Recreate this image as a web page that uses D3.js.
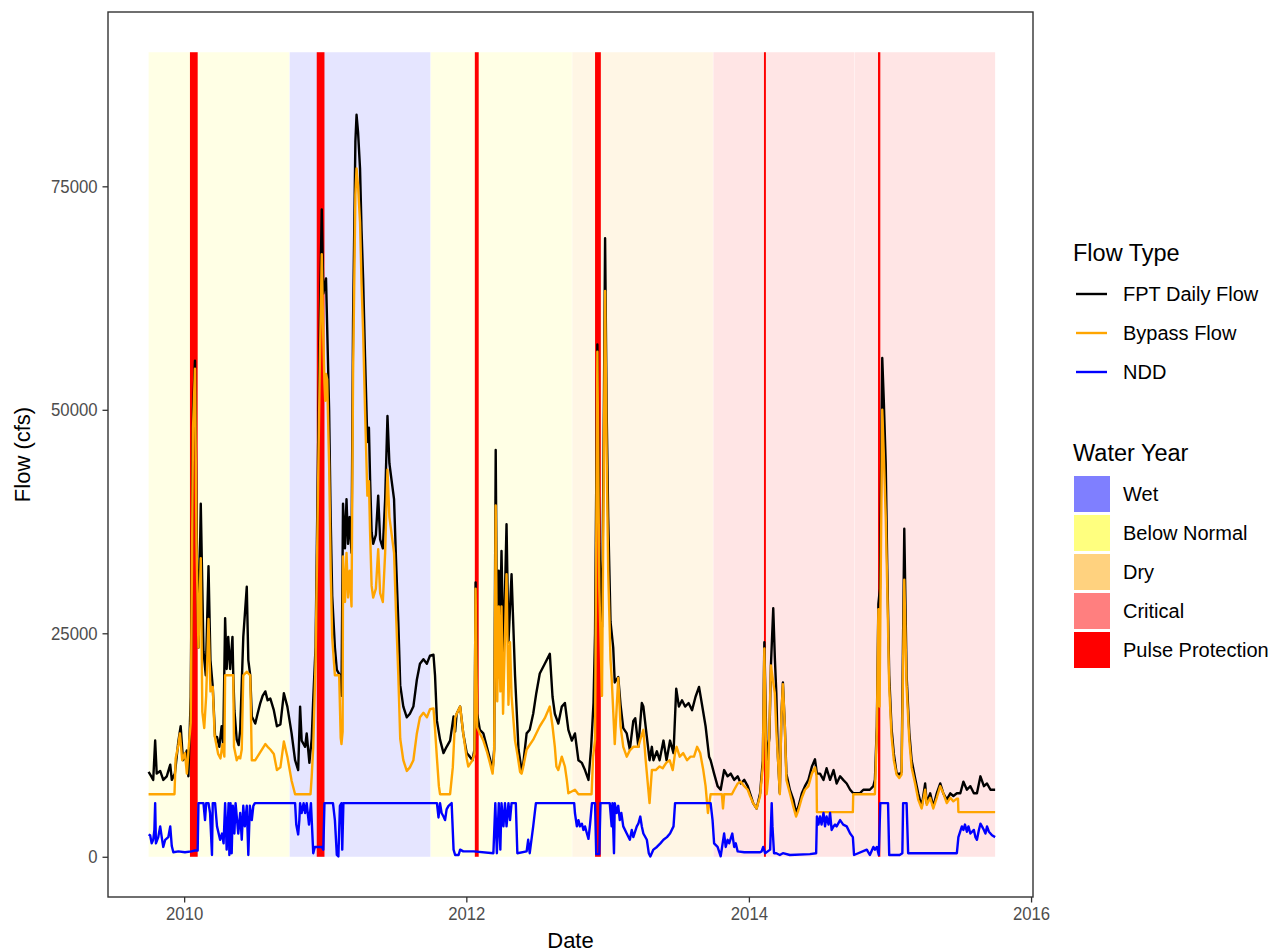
<!DOCTYPE html>
<html>
<head>
<meta charset="utf-8">
<script src="https://cdn.jsdelivr.net/npm/d3@7/dist/d3.min.js"></script>
<style>
  body { margin: 0; background: #ffffff; }
  svg text { font-family: "Liberation Sans", Arial, sans-serif; }
</style>
</head>
<body>
<svg width="1273" height="952"></svg>
<script>
// water years and their classification
const waterYearStart = ["2009-10-01", "2010-10-01", "2011-10-01", "2012-10-01", "2013-10-01", "2014-10-01"];
const waterYearEnd   = ["2010-09-30", "2011-09-30", "2012-09-30", "2013-09-30", "2014-09-30", "2015-09-30"];
const waterYearType  = ["Below Normal", "Wet", "Below Normal", "Dry", "Critical", "Critical"];

// pulse protection windows
const pulseStart = ["2010-01-16", "2010-12-10", "2012-01-23", "2012-11-29", "2014-02-09", "2014-12-01"];
const pulseEnd   = ["2010-02-05", "2010-12-30", "2012-02-02", "2012-12-14", "2014-02-14", "2014-12-07"];

const fillNames  = ["Wet", "Below Normal", "Dry", "Critical", "Pulse Protection"];
const fillColors = ["#0000FF", "#FFFF00", "#FFA500", "#FF0000", "#FF0000"];

const flowNames  = ["FPT Daily Flow", "Bypass Flow", "NDD"];
const flowColors = ["#000000", "#FFA500", "#0000FF"];

const yTicks = [0, 25000, 50000, 75000];
const xTicks = ["2010-01-01", "2012-01-01", "2014-01-01", "2016-01-01"];

// Freeport daily flow (cfs)
const fptFlow = [
  ["2009-10-01", 9500], ["2009-10-08", 9000], ["2009-10-13", 8600], ["2009-10-18", 13000], ["2009-10-22", 9300],
  ["2009-10-31", 9600], ["2009-11-08", 8600], ["2009-11-17", 9000], ["2009-11-26", 10300], ["2009-11-30", 8600],
  ["2009-12-08", 9300], ["2009-12-17", 12900], ["2009-12-23", 14600], ["2009-12-29", 10800], ["2010-01-03", 11000],
  ["2010-01-08", 11900], ["2010-01-12", 9000], ["2010-01-18", 17900], ["2010-01-24", 50000], ["2010-01-29", 55500],
  ["2010-02-02", 38000], ["2010-02-07", 23400], ["2010-02-13", 39500], ["2010-02-20", 23000], ["2010-02-26", 20300],
  ["2010-03-05", 32500], ["2010-03-10", 22000], ["2010-03-16", 19000], ["2010-03-22", 13400], ["2010-03-27", 13400],
  ["2010-04-02", 12300], ["2010-04-08", 14600], ["2010-04-12", 12500], ["2010-04-17", 26700], ["2010-04-21", 21000],
  ["2010-04-25", 24600], ["2010-04-30", 21000], ["2010-05-06", 24600], ["2010-05-08", 20500], ["2010-05-11", 16400],
  ["2010-05-17", 13100], ["2010-05-22", 12500], ["2010-05-26", 14200], ["2010-06-03", 24600], ["2010-06-12", 30200],
  ["2010-06-16", 22000], ["2010-06-21", 20300], ["2010-06-25", 15700], ["2010-07-04", 14900], ["2010-07-10", 16000],
  ["2010-07-17", 17200], ["2010-07-23", 18000], ["2010-07-30", 18500], ["2010-08-05", 17500], ["2010-08-12", 17700],
  ["2010-08-21", 16400], ["2010-08-29", 14600], ["2010-09-07", 14800], ["2010-09-16", 18300], ["2010-09-25", 16800],
  ["2010-10-06", 13800], ["2010-10-15", 10800], ["2010-10-23", 9700], ["2010-10-28", 16800], ["2010-11-01", 13000],
  ["2010-11-10", 12300], ["2010-11-14", 13800], ["2010-11-21", 10500], ["2010-11-27", 13200], ["2010-12-01", 17700],
  ["2010-12-07", 23500], ["2010-12-13", 44000], ["2010-12-18", 60000], ["2010-12-23", 72400], ["2010-12-27", 63000],
  ["2011-01-03", 64700], ["2011-01-06", 59300], ["2011-01-11", 50000], ["2011-01-15", 38000], ["2011-01-19", 29200],
  ["2011-01-26", 23400], ["2011-01-31", 20900], ["2011-02-08", 20300], ["2011-02-12", 18000], ["2011-02-16", 39500],
  ["2011-02-21", 34500], ["2011-02-25", 40000], ["2011-03-01", 35000], ["2011-03-05", 38000], ["2011-03-10", 34000],
  ["2011-03-14", 60000], ["2011-03-20", 80000], ["2011-03-23", 83000], ["2011-03-27", 81000], ["2011-04-01", 77000],
  ["2011-04-05", 70000], ["2011-04-09", 64700], ["2011-04-14", 55900], ["2011-04-20", 46400], ["2011-04-24", 48000],
  ["2011-04-27", 42300], ["2011-05-01", 36300], ["2011-05-05", 35000], ["2011-05-12", 36000], ["2011-05-18", 40400],
  ["2011-05-23", 35500], ["2011-05-30", 34500], ["2011-06-05", 40000], ["2011-06-11", 49300], ["2011-06-16", 44000],
  ["2011-06-22", 42000], ["2011-06-28", 40000], ["2011-07-03", 33400], ["2011-07-09", 26300], ["2011-07-14", 19200],
  ["2011-07-22", 16800], ["2011-07-31", 15600], ["2011-08-08", 16000], ["2011-08-17", 16800], ["2011-08-26", 19800],
  ["2011-09-03", 21600], ["2011-09-12", 22100], ["2011-09-21", 21600], ["2011-09-29", 22500], ["2011-10-08", 22600],
  ["2011-10-12", 20300], ["2011-10-17", 15200], ["2011-10-25", 13100], ["2011-11-03", 11600], ["2011-11-11", 12300],
  ["2011-11-20", 13000], ["2011-11-29", 15700], ["2011-12-03", 14000], ["2011-12-07", 16000], ["2011-12-16", 16800],
  ["2011-12-24", 13800], ["2012-01-02", 11600], ["2012-01-10", 11200], ["2012-01-17", 10800], ["2012-01-22", 12000],
  ["2012-01-25", 30700], ["2012-01-29", 16000], ["2012-02-05", 14200], ["2012-02-14", 13800], ["2012-02-23", 12300],
  ["2012-03-02", 11000], ["2012-03-09", 9700], ["2012-03-13", 12000], ["2012-03-17", 45500], ["2012-03-21", 20000],
  ["2012-03-25", 32000], ["2012-03-29", 27000], ["2012-04-01", 34200], ["2012-04-06", 22000], ["2012-04-14", 37200],
  ["2012-04-19", 24000], ["2012-04-27", 31600], ["2012-05-06", 20300], ["2012-05-15", 12000], ["2012-05-23", 9700],
  ["2012-05-27", 10300], ["2012-06-05", 13800], ["2012-06-13", 14200], ["2012-06-22", 16000], ["2012-06-30", 18300],
  ["2012-07-09", 20500], ["2012-07-22", 21600], ["2012-08-04", 22700], ["2012-08-11", 17900], ["2012-08-17", 16000],
  ["2012-08-26", 14900], ["2012-09-04", 16800], ["2012-09-12", 17200], ["2012-09-21", 14200], ["2012-09-30", 13000],
  ["2012-10-08", 13800], ["2012-10-17", 10800], ["2012-10-26", 10500], ["2012-11-03", 9700], ["2012-11-12", 8600],
  ["2012-11-19", 12300], ["2012-11-25", 17200], ["2012-11-29", 25000], ["2012-12-05", 57300], ["2012-12-10", 35000],
  ["2012-12-17", 25700], ["2012-12-21", 45000], ["2012-12-25", 69200], ["2012-12-29", 50000], ["2013-01-02", 38000],
  ["2013-01-08", 26300], ["2013-01-15", 23400], ["2013-01-19", 19500], ["2013-01-28", 20100], ["2013-02-03", 17000],
  ["2013-02-10", 14400], ["2013-02-19", 13800], ["2013-02-27", 12000], ["2013-03-08", 15200], ["2013-03-13", 15500],
  ["2013-03-21", 12300], ["2013-03-30", 17200], ["2013-04-03", 16800], ["2013-04-12", 13400], ["2013-04-19", 10800],
  ["2013-04-25", 12300], ["2013-04-29", 10800], ["2013-05-08", 11800], ["2013-05-15", 10800], ["2013-05-25", 13000],
  ["2013-06-02", 10800], ["2013-06-11", 13000], ["2013-06-20", 11600], ["2013-06-27", 18800], ["2013-07-04", 16800],
  ["2013-07-12", 17500], ["2013-07-20", 16800], ["2013-07-29", 17200], ["2013-08-07", 16400], ["2013-08-16", 17900],
  ["2013-08-25", 19000], ["2013-09-01", 17200], ["2013-09-11", 14600], ["2013-09-20", 11200], ["2013-09-24", 10800],
  ["2013-10-03", 9300], ["2013-10-12", 7900], ["2013-10-20", 7500], ["2013-10-29", 9700], ["2013-11-07", 9000],
  ["2013-11-15", 9300], ["2013-11-24", 8600], ["2013-12-03", 9000], ["2013-12-11", 8200], ["2013-12-20", 8600],
  ["2013-12-29", 7900], ["2014-01-04", 7100], ["2014-01-12", 6000], ["2014-01-21", 5400], ["2014-01-30", 7100],
  ["2014-02-06", 10800], ["2014-02-10", 24000], ["2014-02-16", 10800], ["2014-02-23", 13300], ["2014-02-27", 21400],
  ["2014-03-05", 27800], ["2014-03-09", 22400], ["2014-03-13", 18300], ["2014-03-17", 11200], ["2014-03-22", 7100],
  ["2014-03-26", 15700], ["2014-03-30", 19500], ["2014-04-04", 14600], ["2014-04-08", 9300], ["2014-04-17", 7500],
  ["2014-04-26", 6400], ["2014-05-03", 4900], ["2014-05-09", 5600], ["2014-05-18", 7100], ["2014-05-26", 7900],
  ["2014-06-04", 8600], ["2014-06-13", 10100], ["2014-06-21", 10900], ["2014-06-26", 9300], ["2014-07-04", 9300],
  ["2014-07-13", 8600], ["2014-07-21", 9900], ["2014-07-30", 8600], ["2014-08-08", 9700], ["2014-08-16", 8200],
  ["2014-08-25", 9000], ["2014-09-02", 8600], ["2014-09-11", 8200], ["2014-09-20", 7500], ["2014-09-28", 7100],
  ["2014-10-07", 7100], ["2014-10-15", 7100], ["2014-10-24", 7500], ["2014-11-02", 7500], ["2014-11-10", 7500],
  ["2014-11-19", 7900], ["2014-11-23", 8600], ["2014-11-28", 14600], ["2014-12-02", 28300], ["2014-12-06", 30000],
  ["2014-12-12", 55800], ["2014-12-16", 51000], ["2014-12-21", 44000], ["2014-12-25", 32200], ["2014-12-30", 20300],
  ["2015-01-05", 14400], ["2015-01-11", 11500], ["2015-01-18", 9400], ["2015-01-25", 9200], ["2015-01-31", 9500],
  ["2015-02-07", 36700], ["2015-02-13", 20300], ["2015-02-20", 13900], ["2015-02-26", 10800], ["2015-03-07", 8800],
  ["2015-03-15", 7100], ["2015-03-24", 5600], ["2015-04-02", 8200], ["2015-04-06", 6000], ["2015-04-15", 7100],
  ["2015-04-23", 5600], ["2015-05-02", 7100], ["2015-05-11", 8200], ["2015-05-19", 7100], ["2015-05-28", 6400],
  ["2015-06-06", 7100], ["2015-06-14", 6800], ["2015-06-23", 7100], ["2015-07-02", 7100], ["2015-07-10", 8400],
  ["2015-07-19", 7500], ["2015-07-28", 7900], ["2015-08-06", 7100], ["2015-08-14", 7100], ["2015-08-23", 9000],
  ["2015-09-01", 7900], ["2015-09-09", 8200], ["2015-09-18", 7500], ["2015-09-30", 7500]
];

// bypass flow (cfs)
const bypassFlow = [
  ["2009-10-01", 7000], ["2009-12-07", 7000], ["2009-12-10", 11000], ["2009-12-17", 12500], ["2009-12-21", 13800],
  ["2009-12-27", 10800], ["2010-01-03", 11600], ["2010-01-08", 9300], ["2010-01-12", 11800], ["2010-01-18", 15000],
  ["2010-01-24", 48000], ["2010-01-29", 54600], ["2010-02-02", 35000], ["2010-02-07", 23400], ["2010-02-13", 33400],
  ["2010-02-17", 16200], ["2010-02-22", 14400], ["2010-02-27", 18000], ["2010-03-05", 26600], ["2010-03-10", 18500],
  ["2010-03-16", 19000], ["2010-03-21", 13500], ["2010-03-30", 11500], ["2010-04-05", 11000], ["2010-04-10", 12600],
  ["2010-04-15", 11200], ["2010-04-17", 20300], ["2010-05-08", 20300], ["2010-05-10", 12300], ["2010-05-17", 10800],
  ["2010-05-22", 11200], ["2010-05-26", 11000], ["2010-05-30", 12000], ["2010-06-03", 20300], ["2010-06-12", 20700],
  ["2010-06-21", 20300], ["2010-06-25", 10800], ["2010-07-04", 10800], ["2010-07-17", 11700], ["2010-07-30", 12600],
  ["2010-08-05", 12300], ["2010-08-12", 12000], ["2010-08-21", 11500], ["2010-08-29", 9700], ["2010-09-07", 10000],
  ["2010-09-16", 12900], ["2010-09-25", 11200], ["2010-10-06", 8500], ["2010-10-15", 7000], ["2010-11-24", 7000],
  ["2010-11-27", 9000], ["2010-12-01", 12300], ["2010-12-07", 21800], ["2010-12-13", 40000], ["2010-12-18", 55000],
  ["2010-12-23", 67400], ["2010-12-27", 58000], ["2010-12-30", 53000], ["2011-01-01", 51000], ["2011-01-03", 54000],
  ["2011-01-06", 53400], ["2011-01-11", 44000], ["2011-01-15", 32200], ["2011-01-19", 24500], ["2011-01-26", 20300],
  ["2011-02-06", 20300], ["2011-02-10", 13300], ["2011-02-12", 12600], ["2011-02-15", 14000], ["2011-02-16", 33600],
  ["2011-02-21", 28500], ["2011-02-25", 34000], ["2011-03-01", 29000], ["2011-03-05", 32000], ["2011-03-10", 28000],
  ["2011-03-14", 54000], ["2011-03-20", 74000], ["2011-03-23", 77000], ["2011-03-27", 75000], ["2011-04-01", 71000],
  ["2011-04-05", 64000], ["2011-04-09", 58700], ["2011-04-14", 49900], ["2011-04-20", 40400], ["2011-04-24", 42000],
  ["2011-04-27", 36300], ["2011-05-01", 30300], ["2011-05-05", 29000], ["2011-05-12", 30000], ["2011-05-18", 34400],
  ["2011-05-23", 29500], ["2011-05-30", 28500], ["2011-06-05", 34000], ["2011-06-11", 43300], ["2011-06-16", 38000],
  ["2011-06-22", 36000], ["2011-06-28", 34000], ["2011-07-03", 27400], ["2011-07-09", 20300], ["2011-07-14", 13200],
  ["2011-07-22", 10800], ["2011-07-31", 9600], ["2011-08-08", 10000], ["2011-08-17", 10800], ["2011-08-26", 13800],
  ["2011-09-03", 15600], ["2011-09-12", 16100], ["2011-09-21", 15600], ["2011-09-29", 16500], ["2011-10-08", 16600],
  ["2011-10-12", 14300], ["2011-10-17", 11000], ["2011-10-22", 7900], ["2011-10-25", 7000], ["2011-11-20", 7000],
  ["2011-11-27", 10000], ["2011-12-03", 15500], ["2011-12-07", 16000], ["2011-12-16", 16800], ["2011-12-24", 13800],
  ["2012-01-02", 11000], ["2012-01-06", 10100], ["2012-01-17", 10800], ["2012-01-22", 11500], ["2012-01-25", 30000],
  ["2012-01-29", 14500], ["2012-02-05", 13800], ["2012-02-14", 13000], ["2012-02-23", 11800], ["2012-03-02", 10500],
  ["2012-03-09", 9300], ["2012-03-13", 11500], ["2012-03-17", 39300], ["2012-03-21", 17400], ["2012-03-25", 28000],
  ["2012-03-29", 18500], ["2012-04-01", 28000], ["2012-04-05", 16000], ["2012-04-14", 31600], ["2012-04-19", 17000],
  ["2012-04-23", 24000], ["2012-04-27", 18000], ["2012-05-06", 13000], ["2012-05-12", 11500], ["2012-05-19", 9500],
  ["2012-05-23", 9300], ["2012-05-27", 10000], ["2012-06-05", 12000], ["2012-06-22", 13100], ["2012-07-09", 14600],
  ["2012-07-22", 15500], ["2012-08-04", 16800], ["2012-08-11", 14600], ["2012-08-17", 12300], ["2012-08-21", 10100],
  ["2012-08-26", 9700], ["2012-09-04", 11200], ["2012-09-12", 10100], ["2012-09-17", 8600], ["2012-09-21", 7100],
  ["2012-10-08", 7500], ["2012-10-17", 7000], ["2012-11-20", 7000], ["2012-11-24", 11200], ["2012-11-29", 13100],
  ["2012-12-05", 56500], ["2012-12-10", 30000], ["2012-12-17", 18000], ["2012-12-21", 40000], ["2012-12-25", 63300],
  ["2012-12-29", 45000], ["2013-01-02", 32000], ["2013-01-08", 22000], ["2013-01-11", 20000], ["2013-01-19", 12600],
  ["2013-01-28", 20000], ["2013-02-03", 14600], ["2013-02-10", 12300], ["2013-02-19", 11200], ["2013-02-27", 11900],
  ["2013-03-08", 12300], ["2013-03-21", 12300], ["2013-03-26", 13100], ["2013-04-03", 14200], ["2013-04-09", 10800],
  ["2013-04-19", 6000], ["2013-04-25", 9700], ["2013-05-05", 9700], ["2013-05-15", 10100], ["2013-05-23", 9900],
  ["2013-06-01", 10500], ["2013-06-10", 10800], ["2013-06-18", 9700], ["2013-06-24", 11600], ["2013-06-28", 12300],
  ["2013-07-06", 11200], ["2013-07-15", 11600], ["2013-07-25", 10800], ["2013-08-03", 11200], ["2013-08-12", 11200],
  ["2013-08-20", 12300], ["2013-08-28", 11600], ["2013-09-05", 9700], ["2013-09-11", 7900], ["2013-09-17", 4900],
  ["2013-09-24", 7000], ["2013-10-23", 7000], ["2013-10-26", 5400], ["2013-10-29", 7000], ["2013-11-18", 7000],
  ["2013-11-24", 7500], ["2013-12-03", 8200], ["2013-12-11", 8400], ["2013-12-20", 7900], ["2013-12-29", 7500],
  ["2014-01-04", 6800], ["2014-01-12", 6000], ["2014-01-21", 5400], ["2014-01-30", 6800], ["2014-02-06", 10100],
  ["2014-02-10", 23300], ["2014-02-16", 7000], ["2014-02-20", 9000], ["2014-02-27", 21400], ["2014-03-05", 19500],
  ["2014-03-09", 18300], ["2014-03-13", 14000], ["2014-03-17", 11200], ["2014-03-22", 7000], ["2014-03-26", 15700],
  ["2014-03-30", 19300], ["2014-04-04", 14600], ["2014-04-08", 8600], ["2014-04-17", 7100], ["2014-04-26", 5600],
  ["2014-05-03", 4500], ["2014-05-09", 5200], ["2014-05-18", 6600], ["2014-05-26", 7500], ["2014-06-04", 7900],
  ["2014-06-13", 9300], ["2014-06-21", 10000], ["2014-06-25", 9000], ["2014-06-26", 5000], ["2014-09-27", 5000],
  ["2014-09-28", 7000], ["2014-11-23", 7000], ["2014-11-28", 14000], ["2014-12-02", 27700], ["2014-12-05", 16800],
  ["2014-12-12", 50000], ["2014-12-16", 45000], ["2014-12-21", 38000], ["2014-12-25", 30000], ["2014-12-30", 19000],
  ["2015-01-05", 13500], ["2015-01-11", 10800], ["2015-01-18", 9200], ["2015-01-25", 8800], ["2015-01-31", 9200],
  ["2015-02-07", 31000], ["2015-02-13", 19000], ["2015-02-20", 13000], ["2015-02-26", 10000], ["2015-03-07", 8200],
  ["2015-03-15", 6400], ["2015-03-24", 5400], ["2015-04-02", 7500], ["2015-04-06", 5800], ["2015-04-15", 6600],
  ["2015-04-23", 5400], ["2015-05-02", 6600], ["2015-05-11", 7900], ["2015-05-19", 7100], ["2015-05-28", 6000],
  ["2015-06-06", 6600], ["2015-06-14", 6200], ["2015-06-23", 6500], ["2015-06-26", 6500], ["2015-06-27", 5000],
  ["2015-09-30", 5000]
];

// north delta diversion (cfs)
const nddFlow = [
  ["2009-10-01", 2500], ["2009-10-05", 2400], ["2009-10-09", 1500], ["2009-10-13", 1900], ["2009-10-16", 3000],
  ["2009-10-18", 6000], ["2009-10-20", 1500], ["2009-10-26", 2200], ["2009-10-31", 3400], ["2009-11-04", 2200],
  ["2009-11-08", 1100], ["2009-11-13", 1900], ["2009-11-21", 2200], ["2009-11-26", 3400], ["2009-11-30", 1200],
  ["2009-12-04", 500], ["2009-12-17", 600], ["2010-01-03", 500], ["2010-01-20", 600], ["2010-01-29", 700],
  ["2010-02-05", 700], ["2010-02-07", 6000], ["2010-02-20", 6000], ["2010-02-24", 4100], ["2010-02-27", 6000],
  ["2010-03-05", 6000], ["2010-03-09", 4900], ["2010-03-14", 200], ["2010-03-16", 6000], ["2010-03-22", 6000],
  ["2010-03-27", 3400], ["2010-04-04", 1900], ["2010-04-09", 2600], ["2010-04-13", 1500], ["2010-04-17", 6000],
  ["2010-04-21", 800], ["2010-04-26", 6000], ["2010-04-28", 200], ["2010-05-01", 6000], ["2010-05-04", 400],
  ["2010-05-07", 5700], ["2010-05-11", 2600], ["2010-05-14", 6000], ["2010-05-21", 2600], ["2010-05-26", 4900],
  ["2010-05-30", 1900], ["2010-06-03", 5700], ["2010-06-07", 3400], ["2010-06-12", 5700], ["2010-06-16", 200],
  ["2010-06-20", 5700], ["2010-06-25", 4100], ["2010-06-29", 5700], ["2010-07-03", 6000], ["2010-10-15", 6000],
  ["2010-10-18", 3600], ["2010-10-23", 2500], ["2010-10-26", 4100], ["2010-10-28", 6000], ["2010-11-01", 4900],
  ["2010-11-06", 6000], ["2010-11-10", 4900], ["2010-11-14", 6000], ["2010-11-20", 3600], ["2010-11-25", 6000],
  ["2010-12-01", 400], ["2010-12-05", 1100], ["2010-12-23", 1100], ["2010-12-27", 800], ["2010-12-30", 6000],
  ["2011-01-21", 6000], ["2011-01-26", 4100], ["2011-01-31", 200], ["2011-02-04", 40], ["2011-02-08", 5700],
  ["2011-02-12", 6000], ["2011-02-14", 800], ["2011-02-17", 6000], ["2011-10-17", 6000], ["2011-10-21", 4400],
  ["2011-10-25", 6000], ["2011-10-29", 4900], ["2011-11-03", 4500], ["2011-11-07", 4100], ["2011-11-11", 5300],
  ["2011-11-16", 5700], ["2011-11-24", 6000], ["2011-11-29", 800], ["2011-12-03", 200], ["2011-12-12", 200],
  ["2011-12-16", 800], ["2011-12-24", 600], ["2012-01-20", 600], ["2012-03-11", 400], ["2012-03-16", 6000],
  ["2012-03-20", 400], ["2012-03-25", 6000], ["2012-03-29", 800], ["2012-04-01", 6000], ["2012-04-06", 3400],
  ["2012-04-10", 6000], ["2012-04-14", 3400], ["2012-04-19", 6000], ["2012-04-23", 4100], ["2012-04-27", 6000],
  ["2012-05-08", 6000], ["2012-05-12", 400], ["2012-06-05", 600], ["2012-06-09", 1900], ["2012-06-13", 400],
  ["2012-06-22", 3400], ["2012-06-29", 6000], ["2012-10-06", 6000], ["2012-10-08", 4900], ["2012-10-13", 3400],
  ["2012-10-17", 4100], ["2012-10-21", 3400], ["2012-10-26", 3700], ["2012-10-30", 3000], ["2012-11-03", 3400],
  ["2012-11-08", 2600], ["2012-11-12", 2000], ["2012-11-16", 3600], ["2012-11-21", 6000], ["2012-11-29", 6000],
  ["2012-12-02", 300], ["2012-12-10", 300], ["2012-12-13", 6000], ["2013-01-06", 6000], ["2013-01-11", 3400],
  ["2013-01-13", 6000], ["2013-01-17", 400], ["2013-01-19", 6000], ["2013-01-24", 4900], ["2013-01-28", 5700],
  ["2013-02-01", 4100], ["2013-02-05", 4900], ["2013-02-10", 3400], ["2013-02-19", 2600], ["2013-02-27", 1900],
  ["2013-03-04", 3000], ["2013-03-08", 2200], ["2013-03-17", 3400], ["2013-03-21", 3700], ["2013-03-26", 4500],
  ["2013-03-30", 3400], ["2013-04-03", 2600], ["2013-04-12", 1900], ["2013-04-17", 400], ["2013-04-21", 40],
  ["2013-04-29", 800], ["2013-05-08", 1100], ["2013-05-17", 1500], ["2013-05-25", 1900], ["2013-06-03", 2200],
  ["2013-06-11", 2600], ["2013-06-20", 3400], ["2013-06-24", 6000], ["2013-09-24", 6000], ["2013-09-29", 4100],
  ["2013-10-03", 1500], ["2013-10-12", 1100], ["2013-10-20", 50], ["2013-10-29", 2600], ["2013-11-02", 1100],
  ["2013-11-07", 1900], ["2013-11-11", 1500], ["2013-11-19", 2600], ["2013-11-24", 1100], ["2013-11-28", 1500],
  ["2013-12-03", 600], ["2013-12-20", 500], ["2014-01-30", 500], ["2014-02-03", 600], ["2014-02-07", 1100],
  ["2014-02-12", 400], ["2014-02-25", 800], ["2014-03-01", 6000], ["2014-03-03", 3400], ["2014-03-07", 400],
  ["2014-03-13", 400], ["2014-03-22", 200], ["2014-03-30", 400], ["2014-04-17", 200], ["2014-06-08", 300],
  ["2014-06-24", 400], ["2014-06-26", 4500], ["2014-06-30", 3600], ["2014-07-04", 4500], ["2014-07-08", 3600],
  ["2014-07-13", 4900], ["2014-07-17", 3400], ["2014-07-21", 4500], ["2014-07-26", 3600], ["2014-07-30", 4900],
  ["2014-08-03", 3000], ["2014-08-08", 3400], ["2014-08-12", 3600], ["2014-08-16", 3400], ["2014-08-25", 4100],
  ["2014-09-02", 3600], ["2014-09-11", 3400], ["2014-09-20", 2600], ["2014-09-27", 2200], ["2014-09-30", 200],
  ["2014-11-02", 800], ["2014-11-10", 200], ["2014-11-19", 1100], ["2014-11-23", 800], ["2014-11-28", 1100],
  ["2014-12-03", 200], ["2014-12-07", 6000], ["2014-12-27", 6000], ["2014-12-30", 200], ["2015-01-26", 200],
  ["2015-02-02", 400], ["2015-02-04", 6000], ["2015-02-13", 6000], ["2015-02-17", 400], ["2015-06-23", 400],
  ["2015-06-27", 2200], ["2015-07-06", 3400], ["2015-07-10", 3000], ["2015-07-14", 3600], ["2015-07-19", 2800],
  ["2015-07-23", 3400], ["2015-07-28", 2600], ["2015-08-06", 3000], ["2015-08-10", 2200], ["2015-08-14", 1900],
  ["2015-08-19", 3000], ["2015-08-23", 3700], ["2015-08-27", 3400], ["2015-09-01", 3000], ["2015-09-05", 2600],
  ["2015-09-09", 3400], ["2015-09-14", 2800], ["2015-09-18", 2600], ["2015-09-22", 2400], ["2015-09-30", 2200]
];

var parseDate = d3.timeParse("%Y-%m-%d");
var svg = d3.select("svg");

// panel box
var panel = {left: 108, right: 1033, top: 12, bottom: 897};

var x = d3.scaleTime()
    .domain([parseDate("2009-06-18"), parseDate("2016-01-06")])
    .range([panel.left, panel.right]);

var y = d3.scaleLinear()
    .domain([-4500, 94500])
    .range([panel.bottom, panel.top]);

var fillScale = d3.scaleOrdinal().domain(fillNames).range(fillColors);

svg.append("rect")
    .attr("width", 1273).attr("height", 952)
    .attr("fill", "#ffffff");

// water year backgrounds
svg.append("g").selectAll("rect")
    .data(waterYearType)
    .join("rect")
    .attr("x", (d, i) => x(parseDate(waterYearStart[i])))
    .attr("width", (d, i) => x(parseDate(waterYearEnd[i])) - x(parseDate(waterYearStart[i])))
    .attr("y", y(90000))
    .attr("height", y(0) - y(90000))
    .attr("fill", d => fillScale(d))
    .attr("fill-opacity", 0.1);

// pulse protection bands
svg.append("g").selectAll("rect")
    .data(pulseStart)
    .join("rect")
    .attr("x", (d, i) => x(parseDate(d)))
    .attr("width", (d, i) => x(parseDate(pulseEnd[i])) - x(parseDate(d)))
    .attr("y", y(90000))
    .attr("height", y(0) - y(90000))
    .attr("fill", fillScale("Pulse Protection"));

var line = d3.line()
    .x(d => x(parseDate(d[0])))
    .y(d => y(d[1]));

[fptFlow, bypassFlow, nddFlow].forEach(function(series, i) {
  svg.append("path")
      .datum(series)
      .attr("d", line)
      .attr("fill", "none")
      .attr("stroke", flowColors[i])
      .attr("stroke-width", 2.4)
      .attr("stroke-linejoin", "round");
});

// panel border
svg.append("rect")
    .attr("x", panel.left).attr("y", panel.top)
    .attr("width", panel.right - panel.left)
    .attr("height", panel.bottom - panel.top)
    .attr("fill", "none")
    .attr("stroke", "#333333")
    .attr("stroke-width", 1.4);

// axes (tick labels look a little condensed in the original)
var squeeze = 0.88;
var xAxis = svg.append("g")
    .attr("transform", "translate(0," + panel.bottom + ")")
    .call(d3.axisBottom(x)
        .tickValues(xTicks.map(parseDate))
        .tickFormat(d3.timeFormat("%Y"))
        .tickSize(5.5).tickPadding(4));
var yAxis = svg.append("g")
    .attr("transform", "translate(" + panel.left + ",0)")
    .call(d3.axisLeft(y).tickValues(yTicks).tickFormat(d3.format("d"))
        .tickSize(5.5).tickPadding(4));

[xAxis, yAxis].forEach(function(a) {
  a.select(".domain").remove();
  a.selectAll(".tick line").attr("stroke", "#333333").attr("stroke-width", 1.3);
  a.selectAll(".tick text")
      .attr("fill", "#4D4D4D")
      .style("font-size", "19px");
});
xAxis.selectAll(".tick text")
    .attr("transform", "scale(" + squeeze + ",1)");
yAxis.selectAll(".tick text")
    .attr("x", -10.5 / squeeze)
    .attr("transform", "scale(" + squeeze + ",1)");

svg.append("text")
    .attr("x", (panel.left + panel.right) / 2)
    .attr("y", 948)
    .attr("text-anchor", "middle")
    .style("font-size", "22px")
    .text("Date");

svg.append("text")
    .attr("transform", "translate(30," + (panel.top + panel.bottom) / 2 + ") rotate(-90)")
    .attr("text-anchor", "middle")
    .style("font-size", "22px")
    .text("Flow (cfs)");

// legend: flow type
var leg1 = svg.append("g");
leg1.append("text")
    .attr("x", 1073).attr("y", 261)
    .style("font-size", "23.5px")
    .text("Flow Type");
leg1.selectAll("g.key")
    .data(flowNames)
    .join("g")
    .attr("class", "key")
    .attr("transform", (d, i) => "translate(1076," + (294 + i * 39) + ")")
    .each(function(d, i) {
      var g = d3.select(this);
      g.append("line")
          .attr("x1", 0).attr("x2", 31)
          .attr("stroke", flowColors[i])
          .attr("stroke-width", 2.4);
      g.append("text")
          .attr("x", 47).attr("dy", "0.35em")
          .style("font-size", "20px")
          .text(d);
    });

// legend: water year
var leg2 = svg.append("g");
leg2.append("text")
    .attr("x", 1073).attr("y", 461)
    .style("font-size", "23.5px")
    .text("Water Year");
leg2.selectAll("g.key")
    .data(fillNames)
    .join("g")
    .attr("class", "key")
    .attr("transform", (d, i) => "translate(1074," + (476 + i * 39) + ")")
    .each(function(d, i) {
      var g = d3.select(this);
      g.append("rect")
          .attr("width", 36).attr("height", 36)
          .attr("fill", fillScale(d))
          .attr("fill-opacity", d == "Pulse Protection" ? 1 : 0.5);
      g.append("text")
          .attr("x", 49).attr("y", 18).attr("dy", "0.35em")
          .style("font-size", "20px")
          .text(d);
    });
</script>
</body>
</html>
